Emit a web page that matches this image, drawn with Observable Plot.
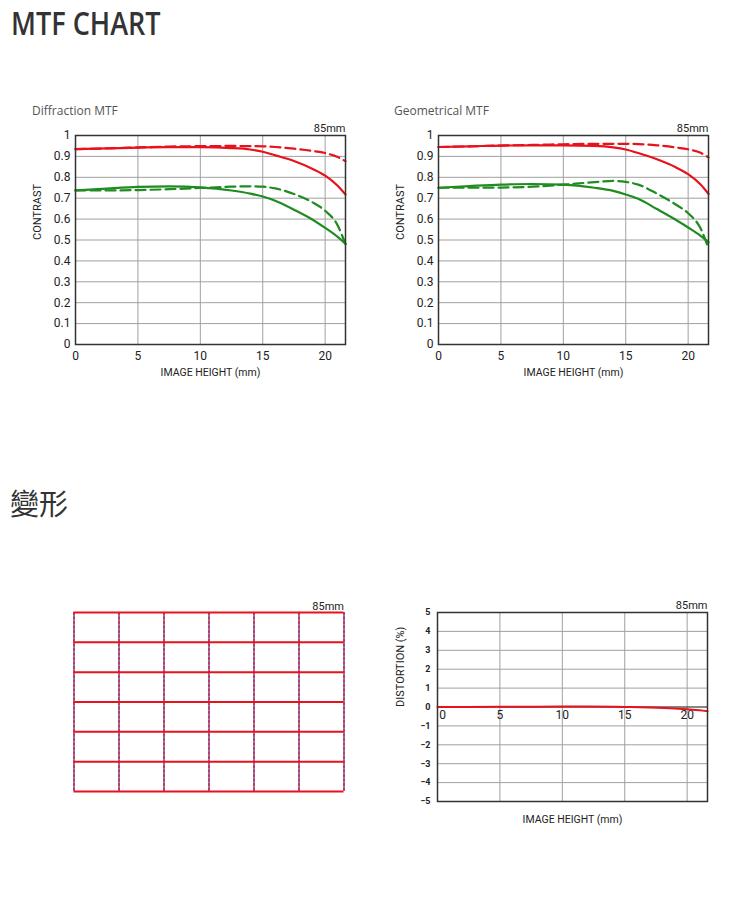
<!DOCTYPE html>
<html>
<head>
<meta charset="utf-8">
<script src="https://cdn.jsdelivr.net/npm/d3@7"></script>
<script src="https://cdn.jsdelivr.net/npm/@observablehq/plot@0.6"></script>
<style>
  html, body { margin: 0; padding: 0; background: #fff; }
  #page { position: relative; width: 750px; height: 897px; overflow: hidden; }
  .abs { position: absolute; }
  .title { display: inline-block; font-family: "Open Sans", sans-serif; font-weight: 600; font-size: 33px; line-height: normal; color: #333; transform: scaleX(0.82); transform-origin: left top; white-space: nowrap; }
  .cjk { display: inline-block; font-family: "Noto Sans CJK TC", sans-serif; font-weight: 400; font-size: 29px; line-height: normal; color: #333; }
  .sub { font-family: "Open Sans", sans-serif; font-size: 12px; line-height: 14px; color: #555; white-space: nowrap; }
</style>
</head>
<body>
<div id="page">
  <div class="abs title" style="left:11px; top:0px;">MTF CHART</div>
  <div class="abs sub" style="left:32px; top:104px;">Diffraction MTF</div>
  <div class="abs sub" style="left:394px; top:104px;">Geometrical MTF</div>
  <div class="abs cjk" style="left:10px; top:481px;">變形</div>
  <div class="abs" id="c1" style="left:0px; top:115px;"></div>
  <div class="abs" id="c2" style="left:363px; top:115px;"></div>
  <div class="abs" id="c3" style="left:0px; top:590px;"></div>
  <div class="abs" id="c4" style="left:362px; top:590px;"></div>
</div>
<script>
// ---------- data ----------
const mtfX = [0, 2.5, 5, 7.5, 10, 12.5, 14, 15, 16, 17.5, 19, 20, 21, 21.63];

const diffRedSolid   = [0.935,0.938,0.942,0.944,0.944,0.940,0.933,0.922,0.905,0.878,0.840,0.808,0.760,0.718];
const diffRedDash    = [0.935,0.938,0.943,0.947,0.949,0.950,0.949,0.948,0.945,0.937,0.926,0.916,0.897,0.877];
const diffGreenSolid = [0.737,0.746,0.754,0.757,0.752,0.737,0.722,0.708,0.688,0.645,0.597,0.558,0.515,0.482];
const diffGreenDash  = [0.737,0.737,0.739,0.743,0.749,0.755,0.757,0.755,0.747,0.720,0.680,0.640,0.570,0.480];

const geoRedSolid   = [0.945,0.948,0.952,0.953,0.953,0.950,0.943,0.933,0.916,0.886,0.848,0.815,0.765,0.720];
const geoRedDash    = [0.945,0.948,0.952,0.955,0.958,0.960,0.960,0.960,0.959,0.953,0.943,0.934,0.917,0.895];
const geoGreenSolid = [0.750,0.758,0.765,0.768,0.765,0.750,0.735,0.718,0.697,0.648,0.597,0.560,0.520,0.490];
const geoGreenDash  = [0.750,0.750,0.751,0.755,0.765,0.777,0.783,0.778,0.765,0.722,0.670,0.628,0.555,0.460];

const distX = [0, 5, 10, 12, 15, 17, 19, 20, 21, 21.63];
const distY = [0, 0.01, 0.02, 0.02, 0.0, -0.03, -0.08, -0.12, -0.17, -0.22];

const mtfXTicks = [0, 5, 10, 15, 20];
const mtfYTicks = [0, 0.1, 0.2, 0.3, 0.4, 0.5, 0.6, 0.7, 0.8, 0.9, 1];
const mtfYLabels = ["0", "0.1", "0.2", "0.3", "0.4", "0.5", "0.6", "0.7", "0.8", "0.9", "1"];
const distXTicks = [0, 5, 10, 15, 20];
const distYTicks = [-5, -4, -3, -2, -1, 0, 1, 2, 3, 4, 5];
const gridCols = [0, 1, 2, 3, 4, 5, 6];
const gridRows = [0, 1, 2, 3, 4, 5, 6];

const focalLabel = "85mm";
const xLabel = "IMAGE HEIGHT (mm)";
const mtfYLabel = "CONTRAST";
const distYLabel = "DISTORTION (%)";

const RED = "#e8121c";
const GREEN = "#1f8c22";
const GRID = "#a0a0a0";
const FONT = "Roboto, sans-serif";

function rows(xs, ys) { return xs.map((x, i) => ({x, y: ys[i]})); }

function mtfPlot(series) {
  const lines = series.map(s => Plot.line(rows(mtfX, s.values), {
    x: "x", y: "y", stroke: s.color, strokeWidth: 2.2,
    strokeDasharray: s.dash ? "10,5" : null, curve: "monotone-x"
  }));
  return Plot.plot({
    width: 375, height: 275,
    marginLeft: 75, marginRight: 30, marginTop: 20, marginBottom: 46,
    style: {fontFamily: FONT, fontSize: "12px", color: "#222", background: "transparent"},
    x: {domain: [0, 21.63]},
    y: {domain: [0, 1]},
    marks: [
      Plot.ruleX(mtfXTicks.slice(1), {stroke: GRID, strokeWidth: 1}),
      Plot.ruleY(mtfYTicks.slice(1), {stroke: GRID, strokeWidth: 1}),
      Plot.axisX(mtfXTicks, {tickSize: 0, tickPadding: 7, label: null, fontSize: 12}),
      Plot.axisY(mtfYTicks, {tickSize: 0, tickPadding: 5, label: null, fontSize: 12,
        tickFormat: d => mtfYLabels[mtfYTicks.indexOf(d)]}),
      ...lines,
      Plot.frame({stroke: "#333", strokeWidth: 1.5}),
      Plot.text([focalLabel], {frameAnchor: "top-right", textAnchor: "end", dy: -11, fontSize: 11, fill: "#222"}),
      Plot.text([xLabel], {frameAnchor: "bottom", dy: 31, fontSize: 10.5, fill: "#222"}),
      Plot.text([mtfYLabel], {frameAnchor: "left", rotate: -90, dx: -38, fontSize: 11, fill: "#222"})
    ]
  });
}

document.getElementById("c1").appendChild(mtfPlot([
  {values: diffGreenDash, color: GREEN, dash: true},
  {values: diffGreenSolid, color: GREEN, dash: false},
  {values: diffRedDash, color: RED, dash: true},
  {values: diffRedSolid, color: RED, dash: false}
]));
document.getElementById("c2").appendChild(mtfPlot([
  {values: geoGreenDash, color: GREEN, dash: true},
  {values: geoGreenSolid, color: GREEN, dash: false},
  {values: geoRedDash, color: RED, dash: true},
  {values: geoRedSolid, color: RED, dash: false}
]));

// distortion grid
document.getElementById("c3").appendChild(Plot.plot({
  width: 375, height: 215,
  marginLeft: 73.5, marginRight: 31.5, marginTop: 22, marginBottom: 14,
  style: {fontFamily: FONT, fontSize: "11px", color: "#222", background: "transparent"},
  x: {domain: [0, 6], axis: null},
  y: {domain: [0, 6], axis: null},
  marks: [
    Plot.ruleX(gridCols, {stroke: "#5a5fc0", strokeWidth: 1.5}),
    Plot.ruleX(gridCols, {stroke: RED, strokeWidth: 1.5, strokeDasharray: "3,1.5", strokeOpacity: 0.85}),
    Plot.ruleY(gridRows, {stroke: RED, strokeWidth: 2}),
    Plot.text([focalLabel], {frameAnchor: "top-right", textAnchor: "end", dy: -10, fontSize: 11, fill: "#222"})
  ]
}));

// distortion curve
document.getElementById("c4").appendChild(Plot.plot({
  width: 375, height: 245,
  marginLeft: 75, marginRight: 30, marginTop: 22, marginBottom: 34,
  style: {fontFamily: FONT, fontSize: "9px", color: "#222", background: "transparent"},
  x: {domain: [0, 21.63], axis: null},
  y: {domain: [-5, 5]},
  marks: [
    Plot.ruleX(distXTicks.slice(1), {stroke: GRID, strokeWidth: 1}),
    Plot.ruleY(distYTicks.filter(d => d !== 0), {stroke: GRID, strokeWidth: 1}),
    Plot.ruleY([0], {stroke: "#111", strokeWidth: 1.2}),
    Plot.axisY(distYTicks, {tickSize: 0, tickPadding: 7, label: null, fontSize: 9, fontWeight: "bold"}),
    Plot.text(distXTicks.filter(d => d !== 0), {x: d => d, y: () => 0, dy: 8, fontSize: 12, fill: "#222"}),
    Plot.text(distXTicks.filter(d => d === 0), {x: d => d, y: () => 0, dy: 8, dx: 5, fontSize: 12, fill: "#222"}),
    Plot.line(rows(distX, distY), {x: "x", y: "y", stroke: RED, strokeWidth: 2, curve: "monotone-x"}),
    Plot.frame({stroke: "#333", strokeWidth: 1.5}),
    Plot.text([focalLabel], {frameAnchor: "top-right", textAnchor: "end", dy: -11, fontSize: 11, fill: "#222"}),
    Plot.text([xLabel], {frameAnchor: "bottom", dy: 21, fontSize: 10.5, fill: "#222"}),
    Plot.text([distYLabel], {frameAnchor: "left", rotate: -90, dx: -37, fontSize: 11, fill: "#222"})
  ]
}));
</script>
</body>
</html>
